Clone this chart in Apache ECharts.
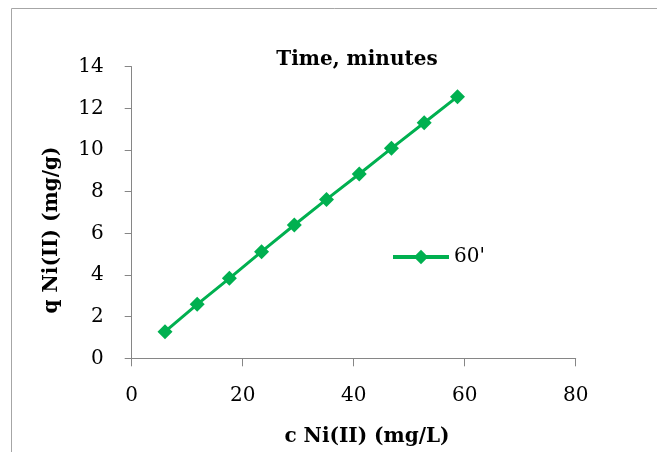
<!DOCTYPE html>
<html>
<head>
<meta charset="utf-8">
<script src="https://cdn.jsdelivr.net/npm/echarts@6/dist/echarts.min.js"></script>
<style>
  html, body { margin: 0; padding: 0; background: #fff; }
  #chart { width: 657px; height: 452px; }
</style>
</head>
<body>
<div id="chart"></div>
<script>
// data
var concentration = [6.0, 11.8, 17.6, 23.4, 29.3, 35.1, 41.0, 46.8, 52.7, 58.7];
var uptake = [1.28, 2.59, 3.84, 5.12, 6.40, 7.63, 8.85, 10.08, 11.31, 12.56];
var seriesName = "60'";
var chartTitle = 'Time, minutes';
var xName = 'c Ni(II) (mg/L)';
var yName = 'q Ni(II) (mg/g)';

var font = '"DejaVu Serif", "Liberation Serif", serif';
var green = '#00B050';
var axisGray = '#868686';

var chart = echarts.init(document.getElementById('chart'));
var option = {
    backgroundColor: '#fff',
    animation: false,
    title: {
        text: chartTitle,
        left: 352,
        top: 45,
        textAlign: 'center',
        textStyle: { fontFamily: font, fontSize: 20, fontWeight: 'bold', color: '#000' }
    },
    legend: {
        data: [seriesName],
        left: 386,
        top: 242,
        itemWidth: 56,
        itemHeight: 18,
        itemGap: 4,
        lineStyle: { width: 4 },
        textStyle: { fontFamily: font, fontSize: 20, color: '#000' }
    },
    grid: {
        left: 131.7,
        right: 81.3,
        top: 66.7,
        bottom: 93.7
    },
    xAxis: {
        type: 'value',
        min: 0,
        max: 80,
        interval: 20,
        splitLine: { show: false },
        axisLine: { lineStyle: { color: axisGray, width: 1 } },
        axisTick: { show: true, inside: false, length: 8, lineStyle: { color: axisGray } },
        axisLabel: { margin: 27, fontFamily: font, fontSize: 20, color: '#000' }
    },
    yAxis: {
        type: 'value',
        min: 0,
        max: 14,
        interval: 2,
        splitLine: { show: false },
        axisLine: { show: true, lineStyle: { color: axisGray, width: 1 } },
        axisTick: { show: true, inside: false, length: 7, lineStyle: { color: axisGray } },
        axisLabel: { margin: 28, fontFamily: font, fontSize: 20, color: '#000' }
    },
    graphic: [
        {
            type: 'rect',
            shape: { x: 11.5, y: 8.5, width: 700, height: 500 },
            style: { fill: 'none', stroke: '#a6a6a6', lineWidth: 1 },
            silent: true
        },
        {
            type: 'text',
            x: 367,
            y: 437,
            style: {
                text: xName, fontFamily: font, fontSize: 20, fontWeight: 'bold',
                fill: '#000', align: 'center', verticalAlign: 'middle'
            }
        },
        {
            type: 'text',
            x: 52,
            y: 230,
            rotation: Math.PI / 2,
            style: {
                text: yName, fontFamily: font, fontSize: 20, fontWeight: 'bold',
                fill: '#000', align: 'center', verticalAlign: 'middle'
            }
        }
    ],
    series: [{
        name: seriesName,
        type: 'line',
        data: concentration.map(function (c, i) { return [c, uptake[i]]; }),
        symbol: 'diamond',
        symbolSize: 15,
        lineStyle: { color: green, width: 3 },
        itemStyle: { color: green }
    }]
};
chart.setOption(option);
</script>
</body>
</html>
